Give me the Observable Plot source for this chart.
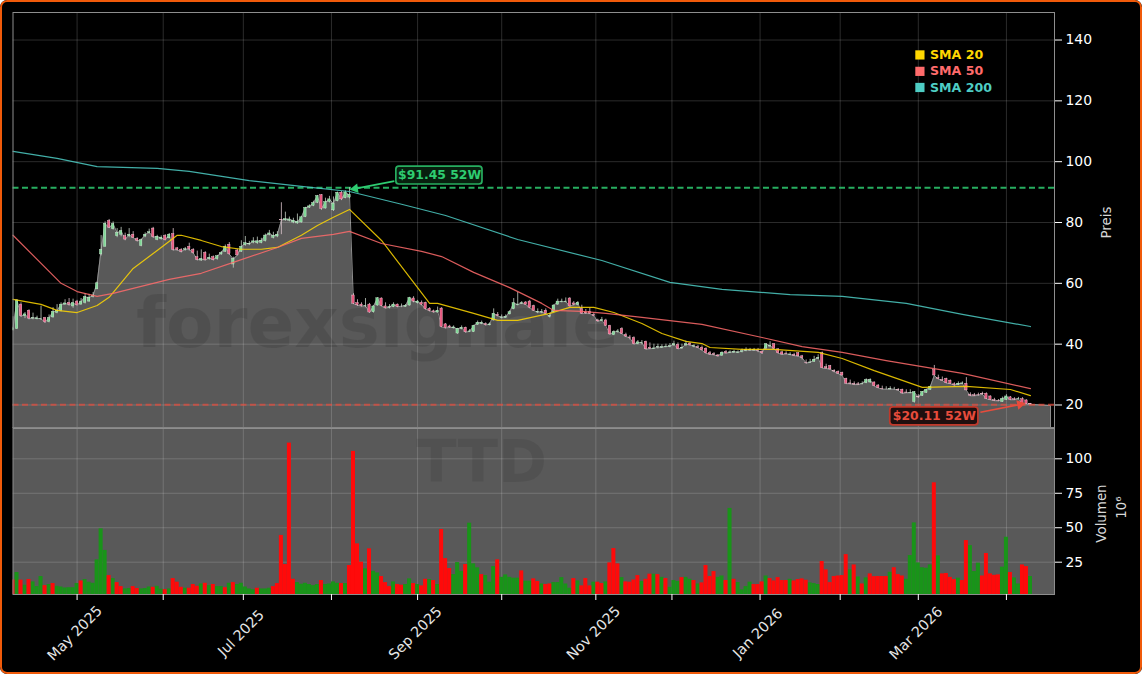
<!DOCTYPE html>
<html><head><meta charset="utf-8">
<script src="https://cdn.jsdelivr.net/npm/d3@7"></script>
<script src="https://cdn.jsdelivr.net/npm/@observablehq/plot@0.6"></script>
<style>
html,body{margin:0;padding:0;background:#fff;overflow:hidden}
#chart{position:relative;width:1142px;height:674px;background:#000;border-radius:7px;overflow:hidden;font-family:"DejaVu Sans",sans-serif}
#chart svg{position:absolute;left:0;background:transparent}
#edge{position:absolute;inset:0;border:2.5px solid #f05a0a;border-radius:7px;box-sizing:border-box;pointer-events:none}
</style></head><body>
<div id="chart"><div id="edge"></div></div>
<script>
const opens=[
44.6,45,53,49.2,51,48.4,48.2,48.2,48.6,47.3,
48.8,50.3,51,53,53.6,52.4,54,53,53.6,54,
55.6,58,69.5,72,80.5,77.8,75.5,76,75.5,75.5,
76,74.6,72.3,75.4,76.5,78,74.3,74.5,75.6,74.8,
76.2,71.5,71,71,72,71,68.6,67.5,70,68,
68.6,68,69.5,70.4,72.7,66.2,70.8,70.4,72.6,72.8,
73.4,73.2,73.3,73.9,76,75,75.4,80.8,80.7,80.6,
80,79.7,80,81.8,84.9,85.5,86.5,89,84.6,86.8,
84,87,89.8,88,88.2,56,53.5,53,52.5,53,
50.5,52.7,55,52.4,52,52.2,53,52.5,52.3,52.7,
55,53.5,53.6,53.6,51.6,50.8,50.4,51.7,46.5,45.8,
45.2,43.5,45,45.4,44,44,46.4,46.7,46.6,46.2,
47.8,49.6,48.6,48.6,49.8,51.5,52.8,53.3,53.7,54,
52.5,50.4,50.4,51,49,50.5,53,53.8,53.8,55,
53.4,52.9,51.5,50.4,50.6,49.6,47.8,47.6,47.8,46,
43,44,45,43,42.2,42,40,40.4,40.8,38.8,
38.4,38.9,38.8,39,39.1,39.6,39.8,38.6,39.6,40.2,
39.2,39,38.8,38.5,37,36.7,36.3,36.2,37.4,37.1,
37.2,37.1,37.4,37.8,37.9,37.9,37.9,37.5,38.5,39.2,
40,38.3,37.3,36.9,36.5,36.5,37,36,33.9,33.9,
34.2,35.2,37,32.4,32.8,31.1,30.9,30.6,28.6,27.1,
26.9,26.8,26.9,27.2,27.4,27.4,26.4,25.3,25.2,25.1,
25.2,24.9,25,24.1,23.9,21,22.6,23,24,25,
31.5,28.8,28.2,28.6,28,26.8,26.6,27,27,23.3,
23.2,23.3,23.6,23.7,22.8,21.6,21.4,21,21.7,22.5,
21.9,21.9,21.9,21.5,20.4];
const closes=[
45.2,54.4,49.2,49.8,48.4,48.6,48.5,48.3,47.2,48.6,
50.6,51,53,53.4,53,53.5,52.8,54,55.5,55.3,
56,60,71,79.6,78.3,79.5,76.6,77.2,74.4,76,
75,74,74.2,76,76.8,75.2,75.3,75,74.2,76,
71,71,70.4,71.2,71.2,70,67.7,68,67.6,68.4,
67.7,68.9,70,72,69.6,68,69.2,72,73.2,73,
73.8,73.8,74,75.7,76.4,75.6,76,80.7,81.1,81,
80.6,80.2,81.7,84.8,85.3,86.4,88.7,84.5,86.7,87.6,
86.2,89.8,87.6,89.9,89,53.3,52.8,52.5,52.6,50.4,
52.4,55.1,52.5,51.8,52.2,53,52.3,52.5,52.6,55.2,
54,54,53,51.5,51,50.5,51,45.6,45.3,45.5,
45.5,45,45.4,43.9,44.2,46,47,47,46.3,46.5,
50,49.3,48.8,49,50.5,53.5,53,53.5,53,52,
51,50.6,50.5,50,49.2,52.7,54,54,54,52.4,
53,53.6,50,50.1,50,49.3,47.5,47.9,46,43.2,
44,44.2,43.4,42.5,42,40,40.6,40.5,38.3,38.5,
38.6,39,39,39.2,39.3,40,38.4,38.8,40,39.7,
39.3,38.8,38,37,36.6,36.5,36,37.2,37,37.3,
37.5,37.3,37.7,38,38,38,37.8,37,40,39.5,
38.5,37,36.6,36.8,36.6,36.2,36,35.5,33.8,34,
34.9,35.5,32.1,32,31.7,31,30.3,29.7,27,27,
26.7,26.7,27,28.2,28.2,26.2,25.6,25.2,25.2,25.2,
25.2,24.8,23.8,24,24,24.2,22.5,24.3,25,26,
29.7,28.5,28,27.2,27,26.5,27,27.1,24.8,23,
23,23.2,23.5,22,21.7,21.4,21.3,22,22.8,21.7,
21.7,22,20.4,20.3,20.2];
const highs=[
49,54.6,53.6,50.4,51.3,50.2,49.2,52.5,48.8,49.6,
52,53,53.6,54.6,55,54.8,54.4,55,56.6,56.4,
57,60.4,75.7,80.2,81,80.2,78,78.4,76.5,78,
77,75,74.6,76.6,77.8,78.4,75.8,75.6,76,76.4,
78,71.8,71.4,71.8,73.2,71.4,70.6,71,70.4,69.6,
69,69.2,70.5,72.6,73.4,68.6,71.2,74,75.4,73.8,
75,75.2,74.8,76.2,77.4,76.8,77,86.5,83.4,81.8,
81.4,82.8,82,85,85.8,87,88.9,89.2,88,88.6,
88.4,90,90.2,90.4,91.45,56.6,54.6,53.6,55,53.4,
52.6,55.3,55.2,53.6,53,53.6,53.2,53.2,53,55.4,
55.6,54.4,54.2,53.8,52,51.2,52.2,52,46.8,46.2,
46,45.2,46,45.6,44.8,46.2,47.6,47.6,47,47,
51.6,50.4,49.6,49.6,51,55,57,54,54,54.4,
52.8,51.6,51.4,51.6,50.2,52.9,54.8,54.8,55.2,55.3,
54,54,52.8,51.4,51.8,50.2,48.2,48.8,48.2,46.2,
44.4,44.8,45.4,43.6,42.8,42.4,41.2,41.2,41,40.4,
40,40,39.8,40,40.2,41,40.4,40,41,40.5,
39.8,39.6,39.4,38.8,37.6,37.2,36.6,37.5,37.9,37.8,
38,37.8,38.4,38.8,38.6,38.6,38.6,38,40.2,40.8,
40.2,38.5,37.7,37.5,37.2,37,37.2,36.3,34.8,35,
36,36.5,37.4,33.4,33,31.6,31.2,30.8,28.8,28.2,
27.6,27.4,27.6,28.6,28.6,27.6,26.7,26.2,26,26,
25.8,25.4,25.2,25,25,24.4,23.4,24.4,25.2,26.2,
33,29.8,29.2,28.8,28.2,27.3,27.6,27.6,29,24,
23.8,23.9,24.2,24,23,22.2,21.8,22.6,23.4,22.8,
22.4,22.5,22.4,21.7,20.5];
const lows=[
44.3,44.8,48.8,48.4,48,48,48,47.8,46.8,47,
48.5,50,50.6,52.8,52.5,51.8,52.6,52.8,53.2,53.8,
55.2,58,69,72,78,77.5,75,75.3,74,75,
74.8,73.6,72,75,76.2,74.8,74,74.2,74,74.6,
70.6,70.6,70,70.6,70.6,69.6,67.4,67.2,67.4,67.6,
67.4,67.6,69.2,70.2,69.2,65,69,70.2,72.2,72.4,
73,72.8,73,73.6,75.6,74.6,75,76,80.4,80.2,
79.6,79.4,79.8,81.6,84.6,85.2,86.2,84,84.4,86.4,
83.6,86.8,87.2,87.8,87.8,53,52.4,52.2,52,50.2,
50.2,52.5,52.3,51.6,51.6,52,52,52,52.2,52.5,
53.6,53.2,52.6,51.2,50.6,50.2,50.2,45.4,45,45.2,
45,43.2,44.7,43.6,43.8,43.8,46.2,46.4,46,46,
47.6,49,48.3,48.6,49.6,51.3,52.6,53,52.8,51.6,
50.8,50,50,49.8,48.6,50.3,52.8,53.6,53.6,52.2,
52.6,52.6,49.8,49.8,49.8,49,47.2,47.4,45.8,43,
42.8,43.6,43.2,42.2,41.4,39.8,39.8,39.8,38.1,38.2,
38.3,38.4,38.6,38.8,38.8,39.2,38.2,38.3,39.2,39.4,
38.8,38.6,37.8,36.8,36.3,36.2,35.8,36,36.8,36.9,
37,36.9,37.1,37.5,37.6,37.6,37.2,36.6,38.3,38.8,
38.3,36.8,36.4,36.5,36.2,36,35.8,34.8,33.4,33.8,
34,35.2,32,31.8,31.5,30.6,30.1,29.5,26.9,26.6,
26.5,26.4,26.6,27,27.1,26,25.4,25,25,25,
24.9,24.5,23.6,23.8,23.7,20.6,22.2,22.8,23.8,24.8,
29.5,28.3,27.8,27,26.8,26.2,26.4,26.8,24.6,22.8,
22.8,22.9,23.2,21.8,21.5,21.2,21.1,20.9,21.5,21.5,
21.5,21.7,20.3,20.2,20.11];
const volumes=[
12.1,17.5,12,8.3,12.4,10.7,7.3,14.6,8,8.8,
9.5,7.5,7,6.3,6.5,6.5,9.5,11.4,12.4,10.5,
9.7,26.7,49.2,33.5,15.3,13.1,10.2,7.3,5.6,5.9,
7.3,5.9,5.6,5.9,7,6.8,7.5,5.4,5.1,5.6,
13.1,10.5,6.8,6.1,6.1,8.8,7.5,9.2,9.7,8,
8.8,7.3,7.3,6.5,9.7,10.2,8.8,9.7,7,5.6,
5,6.1,5.6,5.6,6.1,7.3,9.5,44.4,23.3,111.4,
12.6,10.2,9,9.7,8.8,8,8.8,11.7,8.8,9.2,
10.7,9.7,9.5,9.5,22.6,105.4,38.3,25,20.1,34.7,
18.4,17.2,14.6,10.2,7.3,10.7,8.8,8.3,8.8,12.9,
9.5,8.8,7.8,12.6,12.4,11.7,8.8,48.7,27.6,20.4,
16,24.7,18.4,23.3,53.3,23.8,20.9,16,15.3,10.5,
21.8,26.7,14,15.8,14,13.4,13.4,18.7,11.2,11.2,
12.9,11,9.2,8.8,9.2,10.2,10.2,13.8,9.2,6.1,
13.1,11.4,7.8,13.1,7.8,10.5,10.5,9.5,10.7,24.5,
34.9,23.8,13.8,10.7,10.5,12.1,15.3,11,12.6,16.3,
16.3,16,14,13.1,6.8,11.7,11,13.8,14,12.6,
11.7,9.2,10,22.6,14.6,18.2,14,15,11.7,64,
12.6,10.2,4.9,7.3,10.5,8.8,8.8,10.7,15,13.1,
11.4,13.8,11.7,11.7,12.6,11.4,12.4,12.9,11.9,10,
9.5,8.8,25.5,19.4,10.2,14.6,15,15.3,30.5,19.4,
23,14.3,9.2,13.6,16.5,14.5,14.6,14.6,14.6,17.7,
21,16,15,12.6,29.8,53.5,24.5,21,20.6,23,
82.6,29.6,16.5,16.8,14,12.4,13.4,11.7,40.7,37,
18.2,24.3,15,31.3,16.5,15.5,15.8,21.4,43.1,17.5,
13.6,9.2,23,21.8,14.6];
const volumeSides=[
"rgrgrgggrg","rggggggrgg","ggggrgrrgg","rrgggrggrg",
"rrrgrrrgrg","rggrgrgggg","grgggrrrrr","rggggggrgg",
"ggrgrrrrgr","ggrrrgrrgg","rgrrgrgrrr","gggrgggrgg",
"grgggggrgg","rrgrrggggg","rgrrrgrrgr","rrgrrrrgrr",
"grgrgggrgg","rgrrrrggrg","rggggrrrgr","rrrrgrrrrg",
"ggrrrrrrrg","rgrgrrrrrg","rrrggggggg","rgrrrrgrrg",
"ggrrrrrggr","ggrrg"].join("");
const sma20Days=[0,7,11,16,21,24,30,36,41,42,47,52,57,62,66,72,76,80,84,92,104,106,115,121,126,134,139,145,150,157,162,168,172,174,182,190,201,207,215,222,227,238,249,254];
const sma20Values=[54.7,53.1,51.1,50.4,52.7,55.4,64.9,70.8,75.8,75.8,74.1,72.1,71.2,71.2,71.8,75.8,79,81.7,84.3,74.1,53.4,53.4,50.1,47.8,47.8,50.1,52.1,52.1,50.4,46.8,43.5,40.9,40.2,38.9,38.3,38.3,37.3,35.3,31.3,28.1,25.8,26.1,25.1,23.1];
const sma50Days=[0,12,16,21,25,39,47,55,66,72,80,84,92,102,107,115,124,132,135,142,148,157,172,187,197,207,218,237,254];
const sma50Values=[75.8,60,57.3,55.7,56.7,61.3,63.3,66.9,71.8,74.8,76.1,77.1,73.1,70.5,68.8,63.6,58.6,53.4,51.1,50.8,50.1,48.8,46.5,42.2,39.2,37.3,34.6,30.4,25.4];
const sma200Days=[0,11,21,36,44,59,72,84,97,108,126,147,164,177,194,207,223,237,254];
const sma200Values=[103.4,101.1,98.4,97.8,96.8,93.8,91.9,90.2,86,82.3,74.4,67.5,60.3,58,56.3,55.7,53.4,49.8,45.8];
const monthTicks=[16,37.5,57.5,79.5,101,122,145.5,164.5,186.5,206.5,226,248];
const monthLabels=["May 2025","","Jul 2025","","Sep 2025","","Nov 2025","","Jan 2026","","Mar 2026",""];
const priceTicks=[20,40,60,80,100,120,140];
const volumeTicks=[25,50,75,100];
const high52=91.45, low52=20.11;
const legendNames=["SMA 20","SMA 50","SMA 200"];
const legendColors=["#FFD700","#FF6B6B","#4ECDC4"];
const legendLevels=[135.1,129.7,124.4];

const days=d3.range(closes.length);
const candles=days.map(i=>({i,o:opens[i],c:closes[i],h:highs[i],l:lows[i]}));
const bars=days.map(i=>({i,v:volumes[i],side:volumeSides[i]}));
const zip=(xs,ys)=>xs.map((x,k)=>({x,y:ys[k]}));
const rightDay=259;
const floorPrice=12.27, floorVol=1.56;
const areaRows=[...days.map(i=>({x:i,y:closes[i]})),{x:rightDay,y:19.8}];
const outlineRows=[...areaRows,{x:rightDay,y:floorPrice+0.3}];
const xDomain=[0,260];
const ticksPaired=zip(monthTicks,monthLabels);
const common={width:1142,marginLeft:12.5,marginRight:88,x:{domain:xDomain,axis:null}};
const fontStyle={fontFamily:"'DejaVu Sans',sans-serif",background:"transparent"};
const up=d=>d.c>=d.o, down=d=>d.c<d.o;

const priceChart=Plot.plot({...common,height:428,marginTop:12,marginBottom:0,
  y:{domain:[floorPrice,149.05],axis:null},style:fontStyle,
  marks:[
    Plot.areaY(areaRows,{x:"x",y1:floorPrice,y2:"y",fill:"#595959",clip:true}),
    Plot.line(outlineRows,{x:"x",y:"y",stroke:"#8e8e8e",strokeWidth:1,clip:true}),
    Plot.gridY(priceTicks,{stroke:"#fff",strokeOpacity:0.17,strokeWidth:1}),
    Plot.gridX(monthTicks,{stroke:"#fff",strokeOpacity:0.17,strokeWidth:1}),
    Plot.text(["forexsignale"],{x:91,y:46.4,fontSize:69,fontWeight:"bold",fill:"#000",fillOpacity:0.1,textAnchor:"middle"}),
    Plot.ruleY([high52],{stroke:"#27ae60",strokeWidth:2,strokeDasharray:"6,3.5"}),
    Plot.ruleY([low52],{stroke:"#e74c3c",strokeWidth:2,strokeOpacity:0.7,strokeDasharray:"6,3.5"}),
    Plot.ruleX(candles.filter(up),{x:"i",y1:"l",y2:"h",stroke:"#c4cfc4",strokeWidth:0.8,clip:true}),
    Plot.ruleX(candles.filter(down),{x:"i",y1:"l",y2:"h",stroke:"#dcc4cc",strokeWidth:0.8,clip:true}),
    Plot.rect(candles.filter(up),{x1:d=>d.i-0.3,x2:d=>d.i+0.3,y1:"o",y2:"c",fill:"#7fd896",stroke:"#d4f0da",strokeWidth:0.4,clip:true}),
    Plot.rect(candles.filter(down),{x1:d=>d.i-0.3,x2:d=>d.i+0.3,y1:"o",y2:"c",fill:"#e85a80",stroke:"#f6c8d6",strokeWidth:0.4,clip:true}),
    Plot.line(zip(sma20Days,sma20Values),{x:"x",y:"y",stroke:"#FFD700",strokeWidth:1.2,strokeOpacity:0.85}),
    Plot.line(zip(sma50Days,sma50Values),{x:"x",y:"y",stroke:"#FF6B6B",strokeWidth:1.2,strokeOpacity:0.85}),
    Plot.line(zip(sma200Days,sma200Values),{x:"x",y:"y",stroke:"#4ECDC4",strokeWidth:1.2,strokeOpacity:0.85}),
    Plot.link([{a:95.2,b:93.6,c:85.8,d:91.25}],{x1:"a",y1:"b",x2:"c",y2:"d",stroke:"#2ecc71",strokeWidth:1.7}),
    Plot.dot([{c:85.4,d:91.15}],{x:"c",y:"d",symbol:"triangle",r:3.6,rotate:-98,fill:"#2ecc71"}),
    Plot.link([{a:241.5,b:17.6,c:251,d:20.05}],{x1:"a",y1:"b",x2:"c",y2:"d",stroke:"#e74c3c",strokeWidth:1.7}),
    Plot.dot([{c:251.4,d:20.15}],{x:"c",y:"d",symbol:"triangle",r:3.6,rotate:78,fill:"#e74c3c"}),
    Plot.rect([{a:95.7,b:117.2,c:92.5,d:98.4}],{x1:"a",x2:"b",y1:"c",y2:"d",rx:3,fill:"#08200f",stroke:"#27ae60",strokeWidth:1.7}),
    Plot.rect([{a:219,b:241,c:13.3,d:19.2}],{x1:"a",x2:"b",y1:"c",y2:"d",rx:3,fill:"#1f0f0f",stroke:"#c0392b",strokeWidth:1.7}),
    Plot.text(["$91.45 52W"],{x:106.5,y:95.45,fontSize:12.4,fontWeight:"bold",fill:"#2ecc71"}),
    Plot.text(["$20.11 52W"],{x:230,y:16.25,fontSize:12.4,fontWeight:"bold",fill:"#e74c3c"}),
    Plot.dot(legendLevels,{x:226.4,y:d=>d,symbol:"square",r:5.2,fill:(d,k)=>legendColors[k]}),
    Plot.text(legendNames,{x:228.9,y:(d,k)=>legendLevels[k],textAnchor:"start",fontSize:12.6,fontWeight:"bold",fill:(d,k)=>legendColors[k]}),
    Plot.frame({stroke:"#8e8e8e",strokeWidth:1}),
    Plot.ruleY([floorPrice+0.2],{stroke:"#858585",strokeWidth:2}),
    Plot.axisY(priceTicks,{anchor:"right",label:null,tickSize:7,tickPadding:4,stroke:"#fff",color:"#fff",fontSize:13.9,tickFormat:d=>String(d)}),
    Plot.text(["Preis"],{frameAnchor:"right",textAnchor:"middle",y:80,dx:52,rotate:-90,fontSize:13.4,fill:"#d8d8d8"})
  ]});
priceChart.style.top="0px";

const volumeChart=Plot.plot({...common,height:246,marginTop:0,marginBottom:80,
  y:{domain:[floorVol,122],axis:null},style:fontStyle,
  marks:[
    Plot.frame({fill:"#595959",stroke:"none"}),
    Plot.gridY(volumeTicks,{stroke:"#fff",strokeOpacity:0.17,strokeWidth:1}),
    Plot.gridX(monthTicks,{stroke:"#fff",strokeOpacity:0.17,strokeWidth:1}),
    Plot.text(["TTD"],{x:117,y:97,fontSize:59,fontWeight:"bold",fill:"#000",fillOpacity:0.09}),
    Plot.rect(bars.filter(d=>d.side==="g"),{x1:d=>d.i-0.5,x2:d=>d.i+0.5,y1:floorVol,y2:"v",fill:"#199419",clip:true}),
    Plot.rect(bars.filter(d=>d.side==="r"),{x1:d=>d.i-0.5,x2:d=>d.i+0.5,y1:floorVol,y2:"v",fill:"#ff0a0a",clip:true}),
    Plot.frame({stroke:"#8e8e8e",strokeWidth:1}),
    Plot.axisY(volumeTicks,{anchor:"right",label:null,tickSize:7,tickPadding:4,stroke:"#fff",color:"#fff",fontSize:13.9,tickFormat:d=>String(d)}),
    Plot.axisX(monthTicks,{anchor:"bottom",label:null,tickSize:6,stroke:"#fff",tickFormat:()=>""}),
    Plot.text(ticksPaired.filter(d=>d.y),{x:"x",text:"y",frameAnchor:"bottom",dy:42,dx:1,rotate:-45,fontSize:14.3,fill:"#e6e6e6"}),
    Plot.text(["Volumen"],{frameAnchor:"right",textAnchor:"middle",y:60.3,dx:47,rotate:-90,fontSize:13.4,fill:"#d8d8d8"}),
    Plot.text(["10⁶"],{frameAnchor:"right",textAnchor:"middle",y:64.7,dx:67,rotate:-90,fontSize:13.4,fill:"#d8d8d8"})
  ]});
volumeChart.style.top="428px";

const host=document.getElementById("chart");
const edge=document.getElementById("edge");
host.insertBefore(priceChart,edge);
host.insertBefore(volumeChart,edge);
</script>
</body></html>
